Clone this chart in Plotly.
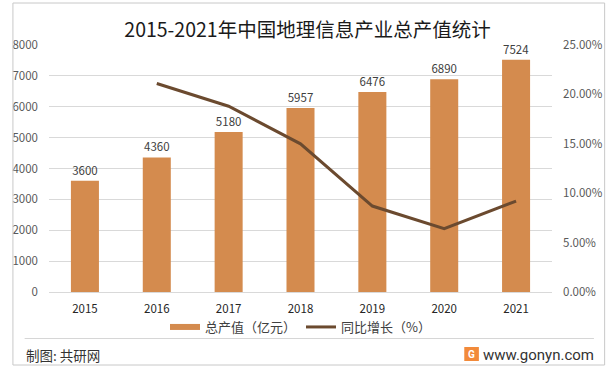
import plotly.graph_objects as go

years = ["2015", "2016", "2017", "2018", "2019", "2020", "2021"]
output_value = [3600, 4360, 5180, 5957, 6476, 6890, 7524]
growth_years = ["2016", "2017", "2018", "2019", "2020", "2021"]
growth_rate = [0.211, 0.188, 0.150, 0.087, 0.064, 0.092]

BAR_COLOR = "#D48B4E"
LINE_COLOR = "#6B4A2F"
FONT = "Noto Sans CJK SC"

fig = go.Figure()
fig.add_trace(go.Bar(
    x=years, y=output_value, name="总产值（亿元）",
    marker=dict(color=BAR_COLOR, line=dict(width=0)),
    width=0.39, text=[str(v) for v in output_value], textposition="outside",
    textfont=dict(size=11.5, color="#404040", family=FONT),
    cliponaxis=False, showlegend=False, yaxis="y",
))
fig.add_trace(go.Scatter(
    x=[None], y=[None], mode="lines", name="总产值（亿元）",
    line=dict(color=BAR_COLOR, width=6), yaxis="y",
))
fig.add_trace(go.Scatter(
    x=growth_years, y=growth_rate, mode="lines", name="同比增长（%）",
    line=dict(color=LINE_COLOR, width=3), yaxis="y2",
))

PW, PH = 516, 247  # plot area size in px


def px_x(x):
    return (x - 41) / PW


def px_y(y):
    return (292 - y) / PH


fig.update_layout(
    width=615, height=369,
    margin=dict(l=41, r=58, t=45, b=77),
    paper_bgcolor="white", plot_bgcolor="white",
    font=dict(family=FONT, size=11, color="#595959"),
    title=dict(text="2015-2021年中国地理信息产业总产值统计", x=0.5, xanchor="center",
               y=1 - 30 / 369, yanchor="middle",
               font=dict(size=19.5, color="#1a1a1a", family=FONT)),
    bargap=0.6,
    xaxis=dict(type="category", categoryorder="array", categoryarray=years,
               showgrid=False, showline=True, linecolor="#d9d9d9", linewidth=1,
               ticks="", tickfont=dict(size=11.5, color="#262626"),
               ticklabelstandoff=6),
    yaxis=dict(range=[0, 8000], dtick=1000, showgrid=True, gridcolor="#d9d9d9",
               gridwidth=1, zeroline=False, showline=False, ticks="",
               tickfont=dict(size=11.5, color="#595959"), ticklabelstandoff=10),
    yaxis2=dict(range=[0, 0.25], dtick=0.05, tickformat=".2%", overlaying="y",
                side="right", showgrid=False, zeroline=False, showline=False,
                ticks="", tickfont=dict(size=11.5, color="#595959"),
                ticklabelstandoff=10),
    legend=dict(orientation="h", x=0.5, xanchor="center", y=-35 / PH,
                yanchor="middle", font=dict(size=13, color="#404040"),
                itemwidth=30, tracegroupgap=0, bgcolor="rgba(0,0,0,0)"),
    shapes=[
        dict(type="rect", xref="paper", yref="paper", x0=px_x(4), x1=px_x(611),
             y0=px_y(365), y1=px_y(3), fillcolor="rgba(0,0,0,0)",
             line=dict(color="#c8c8c8", width=1)),
        dict(type="line", xref="paper", yref="paper", x0=px_x(16), x1=px_x(600),
             y0=px_y(338.5), y1=px_y(338.5), line=dict(color="#d6d6d6", width=1)),
        dict(type="rect", xref="paper", yref="paper", x0=px_x(467), x1=px_x(482),
             y0=px_y(361), y1=px_y(347), fillcolor="#F28A3A", line=dict(width=0)),
    ],
    annotations=[
        dict(text="制图: 共研网", xref="paper", yref="paper", x=px_x(15), xanchor="left",
             y=px_y(355), yanchor="middle", showarrow=False,
             font=dict(size=13.5, color="#333333", family=FONT)),
        dict(text="www.gonyn.com", xref="paper", yref="paper", x=px_x(602), xanchor="right",
             y=px_y(355), yanchor="middle", showarrow=False,
             font=dict(size=15, color="#333333", family="Roboto")),
        dict(text="<b>G</b>", xref="paper", yref="paper", x=px_x(474.5), xanchor="center",
             y=px_y(354), yanchor="middle", showarrow=False,
             font=dict(size=10, color="white", family="Roboto")),
    ],
)

fig.write_html("out.html", config={"displayModeBar": False},
               post_script="document.body.style.margin='0';")
